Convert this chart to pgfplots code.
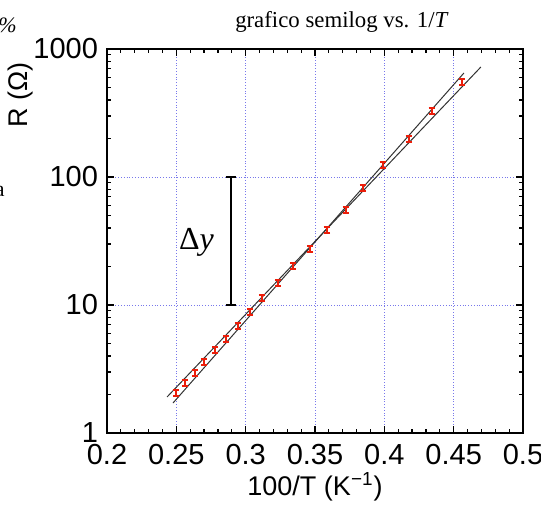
\documentclass[border=0pt]{standalone}
\usepackage{fontspec}
\setmainfont{Liberation Serif}
\setsansfont{Liberation Sans}
\usepackage{pgfplots}
\usepackage{pgfplotstable}
\pgfplotsset{compat=1.18}

\definecolor{gridblue}{RGB}{120,120,235}
\definecolor{barred}{RGB}{235,30,10}

% 100/T (1/K), R (Ohm)
\pgfplotstableread{
x      R
0.2497 2.05
0.2562 2.46
0.2634 2.94
0.2699 3.59
0.2779 4.45
0.2858 5.42
0.2944 6.85
0.3031 8.82
0.3118 11.34
0.3233 14.85
0.3341 20.2
0.3464 27.4
0.3586 38.5
0.3723 55.2
0.3846 82.0
0.3990 124
0.4177 198
0.4343 328
0.4560 552
}\rdata

\begin{document}
\begin{tikzpicture}
\begin{axis}[
    at={(0,0)}, anchor=south west,
    scale only axis,
    width=208pt, height=192pt,
    xmin=0.2, xmax=0.5,
    ymin=1, ymax=1000,
    ymode=log,
    xtick={0.2,0.25,0.3,0.35,0.4,0.45,0.5},
    xticklabels={0.2,0.25,0.3,0.35,0.4,0.45,0.5},
    minor x tick num=4,
    ytick={1,10,100,1000},
    yticklabels={1,10,100,1000},
    tick align=inside,
    major tick length=3.5pt,
    minor tick length=2pt,
    tick style={black, line width=0.6pt},
    axis line style={line width=1pt},
    grid=major,
    major grid style={gridblue, densely dotted, line width=0.4pt},
    /pgf/number format/assume math mode=true,
    tick label style={font=\sffamily\fontsize{14.5}{16}\selectfont},
    xticklabel style={yshift=-2pt},
    yticklabel style={xshift=-1pt},
    xlabel={100/T (K\textsuperscript{−1})},
    ylabel={R (Ω)},
    xlabel style={at={(axis description cs:0.5,-0.14)}, anchor=center,
        font=\sffamily\fontsize{13.5}{15}\selectfont},
    ylabel style={at={(axis description cs:-0.209,0.88)}, anchor=center,
        font=\sffamily\fontsize{13.5}{15}\selectfont},
]

% fit lines (max / min slope)
\addplot[black!80, line width=0.5pt] coordinates {(0.2476,1.715) (0.4574,649.4)};
\addplot[black!80, line width=0.5pt] coordinates {(0.2433,1.911) (0.4696,723)};

% data with error bars
\addplot[draw=none, mark=none, forget plot,
    error bars/.cd, y dir=both, y explicit,
    error bar style={draw=barred, line width=0.9pt},
    error mark options={draw=barred, line width=0.9pt, mark size=1.6pt, rotate=90}]
    table[x=x, y=R, y error expr=0.055*\thisrow{R}] {\rdata};

% Delta y bar
\addplot[black, line width=1.2pt] coordinates {(0.2894,10) (0.2894,100)};
\addplot[black, line width=1.2pt] coordinates {(0.2855,100) (0.2933,100)};
\addplot[black, line width=1.2pt] coordinates {(0.2855,10) (0.2933,10)};

\node[font=\fontsize{16}{18}\selectfont] at (axis cs:0.2645,31) {Δ\textit{y}};
\end{axis}

\node[font=\fontsize{11.4}{13}\selectfont] at (117.5pt,205.5pt) {grafico semilog vs. 1/\textit{T}};
\node[font=\fontsize{11}{13}\selectfont\itshape, anchor=base east, inner sep=0pt] at (-45pt,200pt) {\%};
\node[font=\fontsize{11}{13}\selectfont, anchor=base east, inner sep=0pt] at (-51pt,118pt) {a};

\pgfresetboundingbox
\path[use as bounding box] (-53.5pt,-37.5pt) rectangle (217pt,216.5pt);
\end{tikzpicture}
\end{document}
